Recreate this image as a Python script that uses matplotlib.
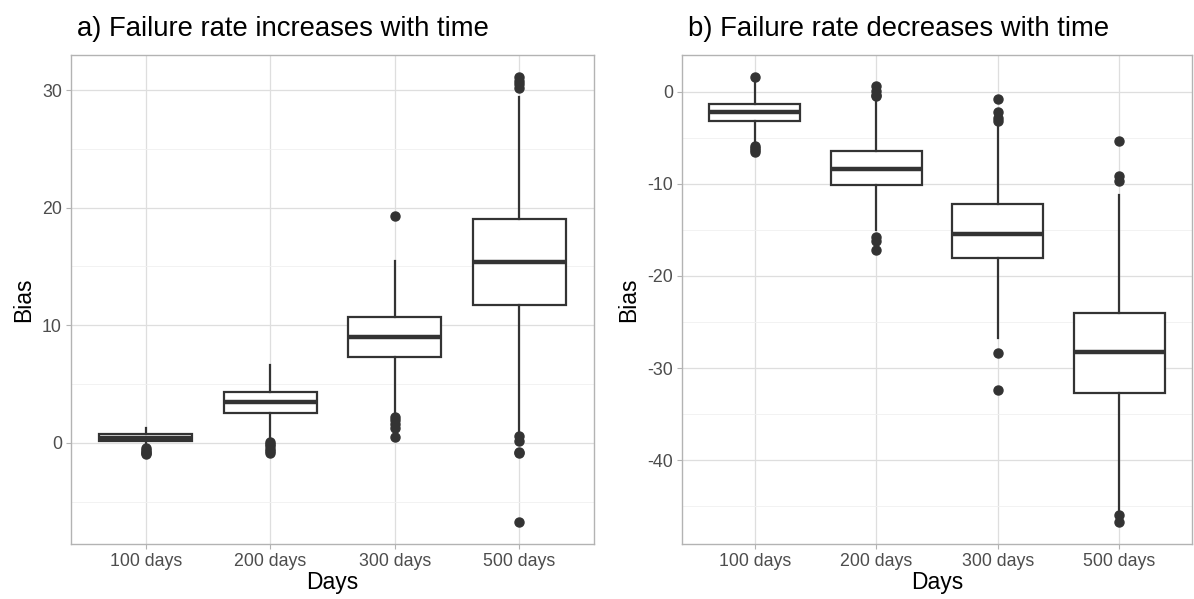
import matplotlib.pyplot as plt
import numpy as np

plt.rcParams['font.family'] = ['Liberation Sans', 'DejaVu Sans']
plt.rcParams['axes.unicode_minus'] = False

days = ['100 days', '200 days', '300 days', '500 days']

# a) Failure rate increases with time
inc_q1 = [0.14, 2.54, 7.34, 11.72]
inc_med = [0.42, 3.45, 8.98, 15.37]
inc_q3 = [0.71, 4.29, 10.73, 19.07]
inc_wlo = [-0.2, 0.05, 2.4, 0.85]
inc_whi = [1.27, 6.64, 15.5, 29.4]
inc_out = [
    [-0.45, -0.6, -0.75, -0.9, -0.98],
    [-0.1, -0.3, -0.5, -0.7, -0.9, 0.1],
    [19.27, 2.2, 1.9, 1.6, 1.3, 0.5],
    [31.1, 30.8, 30.5, 30.2, 0.56, 0.14, -0.8, -0.9, -6.72],
]

# b) Failure rate decreases with time
dec_q1 = [-3.17, -10.14, -18.1, -32.73]
dec_med = [-2.19, -8.35, -15.47, -28.24]
dec_q3 = [-1.29, -6.4, -12.16, -24.03]
dec_wlo = [-5.3, -15.0, -26.7, -45.6]
dec_whi = [0.9, -0.9, -3.4, -11.26]
dec_out = [
    [1.58, -5.9, -6.1, -6.3, -6.55],
    [0.6, 0.1, -0.3, -0.5, -15.8, -16.2, -17.2],
    [-0.83, -2.2, -2.9, -3.2, -28.4, -32.4],
    [-5.4, -9.2, -9.7, -46.0, -46.7],
]

panels = [
    ('a) Failure rate increases with time', inc_q1, inc_med, inc_q3, inc_wlo, inc_whi, inc_out,
     [0, 10, 20, 30]),
    ('b) Failure rate decreases with time', dec_q1, dec_med, dec_q3, dec_wlo, dec_whi, dec_out,
     [-40, -30, -20, -10, 0]),
]

W, H = 1194, 599
fig = plt.figure(figsize=(W / 100, H / 100), dpi=100)
fig.patch.set_facecolor('white')

rects = [(71, 594), (682, 1192)]
top, bottom = 55, 544
dark = '#333333'

for (title, q1, med, q3, wlo, whi, outs, yt), (x0, x1) in zip(panels, rects):
    ax = fig.add_axes([x0 / W, (H - bottom) / H, (x1 - x0) / W, (bottom - top) / H])
    stats = []
    for i in range(len(days)):
        stats.append(dict(q1=q1[i], med=med[i], q3=q3[i], whislo=wlo[i], whishi=whi[i],
                          fliers=outs[i], label=days[i]))
    ax.bxp(stats, positions=np.arange(1, 5), widths=0.75, showcaps=False, patch_artist=True,
           boxprops=dict(facecolor='white', edgecolor=dark, linewidth=1.6),
           medianprops=dict(color=dark, linewidth=3.2, solid_capstyle='butt'),
           whiskerprops=dict(color=dark, linewidth=1.6),
           flierprops=dict(marker='o', markerfacecolor=dark, markeredgecolor=dark,
                           markersize=6.5, linestyle='none'),
           zorder=3)

    ax.set_yticks(yt)
    ax.set_yticks([v + 5 for v in yt] + [yt[0] - 5], minor=True)
    ax.set_xticks(np.arange(1, 5))
    ax.set_xticklabels(days)

    # ggplot-style 5% expansion of the data range
    allv = np.concatenate([np.concatenate(outs), wlo, whi])
    lo, hi = allv.min(), allv.max()
    pad = (hi - lo) * 0.05
    ax.set_ylim(lo - pad, hi + pad)
    ax.set_xlim(0.4, 4.6)

    ax.grid(True, which='major', color='#DEDEDE', linewidth=0.9, zorder=0)
    ax.grid(True, which='minor', axis='y', color='#F0F0F0', linewidth=0.6, zorder=0)
    ax.set_axisbelow(True)
    for s in ax.spines.values():
        s.set_color('#B3B3B3')
        s.set_linewidth(1.0)
    ax.tick_params(which='major', length=3.5, color='#B3B3B3', labelsize=12.8,
                   labelcolor='#4D4D4D', pad=3)
    ax.tick_params(which='minor', length=0)

    ax.set_xlabel('Days', fontsize=16.5, labelpad=1)
    ax.set_ylabel('Bias', fontsize=16.5, labelpad=5)
    ax.set_title(title, fontsize=19.8, loc='left', pad=14, x=0.012)

fig.savefig('out.png', dpi=100, facecolor='white')
